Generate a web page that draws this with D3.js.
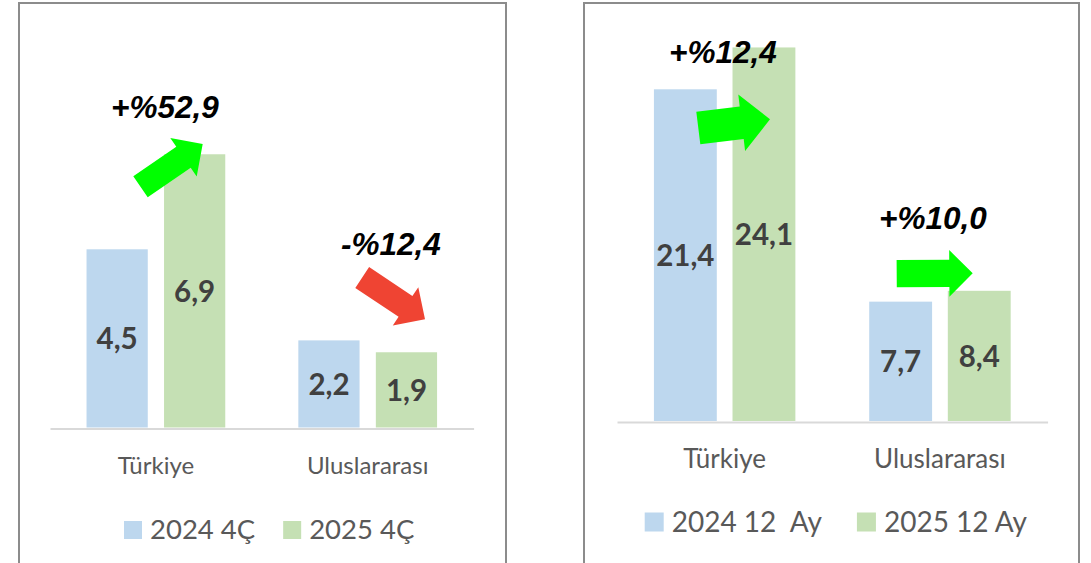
<!DOCTYPE html>
<html>
<head>
<meta charset="utf-8">
<script src="https://cdn.jsdelivr.net/npm/d3@7/dist/d3.min.js"></script>
<style>
  html, body { margin: 0; padding: 0; background: #fff; }
  svg { display: block; }
  text { white-space: pre; }
</style>
</head>
<body>
<svg id="chart" width="1091" height="563"></svg>
<script>
// ---------- data ----------
const categories = ["Türkiye", "Uluslararası"];

const quarterSeries = ["2024 4Ç", "2025 4Ç"];
const quarter2024 = [4.5, 2.2];
const quarter2025 = [6.9, 1.9];
const quarterChange = ["+%52,9", "-%12,4"];

const yearSeries = ["2024 12  Ay", "2025 12 Ay"];
const year2024 = [21.4, 7.7];
const year2025 = [24.1, 8.4];
const yearChange = ["+%12,4", "+%10,0"];

// ---------- style ----------
const seriesColors = ["#BDD7EE", "#C5E0B4"];
const UP = "#00FF00", DOWN = "#EF4433";
const sansFont = "Lato, 'Open Sans', sans-serif";
const annFont = "'Liberation Sans', Arial, sans-serif";

const svg = d3.select("#chart");
const fmt = v => d3.format(".1f")(v).replace(".", ",");

function arrowPath(t, h, sw, hw, hl) {
  const dx = h[0] - t[0], dy = h[1] - t[1];
  const L = Math.hypot(dx, dy), ux = dx / L, uy = dy / L;
  const nx = -uy, ny = ux;
  const b = [h[0] - ux * hl, h[1] - uy * hl];
  const p = (q, s) => [q[0] + nx * s, q[1] + ny * s];
  const pts = [p(t, sw / 2), p(b, sw / 2), p(b, hw / 2), h, p(b, -hw / 2), p(b, -sw / 2), p(t, -sw / 2)];
  return "M" + pts.map(q => q[0].toFixed(1) + "," + q[1].toFixed(1)).join("L") + "Z";
}

function drawPanel(cfg) {
  const g = svg.append("g");
  // frame (bottom edge runs off the picture)
  g.append("path")
    .attr("d", `M${cfg.left},600V3H${cfg.right}V600`)
    .attr("fill", "none").attr("stroke", "#8C8C8C").attr("stroke-width", 2);

  const x0 = d3.scaleBand().domain(categories).range(cfg.axisX)
    .paddingInner(cfg.groupPad).paddingOuter(cfg.groupPad / 2);
  const x1 = d3.scaleBand().domain(cfg.series).range([0, x0.bandwidth()]).paddingInner(cfg.barPad);
  const y = d3.scaleLinear().domain([0, cfg.yMax]).range([cfg.baseline, cfg.yTop]);

  const rows = categories.map((c, i) => ({
    cat: c,
    vals: cfg.series.map((s, j) => ({ s, j, v: cfg.values[j][i] }))
  }));

  const grp = g.selectAll("g.cat").data(rows).join("g")
    .attr("transform", d => `translate(${x0(d.cat)},0)`);

  grp.selectAll("rect").data(d => d.vals).join("rect")
    .attr("x", d => x1(d.s)).attr("width", x1.bandwidth())
    .attr("y", d => y(d.v)).attr("height", d => y(0) - y(d.v))
    .attr("fill", d => seriesColors[d.j]);

  grp.selectAll("text.val").data(d => d.vals).join("text")
    .attr("class", "val")
    .attr("x", d => x1(d.s) + x1.bandwidth() / 2)
    .attr("y", d => (y(d.v) + y(0)) / 2 + cfg.valSize * 0.36)
    .attr("text-anchor", "middle")
    .attr("font-family", sansFont).attr("font-weight", 700)
    .attr("font-size", cfg.valSize).attr("fill", "#404040")
    .text(d => fmt(d.v));

  // category axis
  const axis = g.append("g").attr("transform", `translate(0,${cfg.baseline + 1})`)
    .call(d3.axisBottom(x0).tickSize(0).tickPadding(0).tickFormat(() => ""));
  axis.select(".domain").attr("stroke", "#D9D9D9").attr("stroke-width", 2);

  g.selectAll("text.cat").data(categories).join("text")
    .attr("class", "cat")
    .attr("x", d => x0(d) + x0.bandwidth() / 2)
    .attr("y", cfg.catBaseline)
    .attr("text-anchor", "middle")
    .attr("font-family", sansFont).attr("font-size", cfg.catSize)
    .attr("fill", "#595959")
    .text(d => d);

  // legend
  let lx = cfg.legendX;
  cfg.series.forEach((s, j) => {
    g.append("rect")
      .attr("x", lx).attr("y", cfg.legendY - cfg.sq)
      .attr("width", cfg.sq).attr("height", cfg.sq)
      .attr("fill", seriesColors[j]);
    const t = g.append("text")
      .attr("x", lx + cfg.sq + 8).attr("y", cfg.legendY)
      .attr("font-family", sansFont).attr("font-size", cfg.legendSize)
      .attr("fill", "#595959")
      .text(s);
    lx += cfg.sq + 8 + t.node().getComputedTextLength() + cfg.legendGap;
  });

  // change annotations with block arrows
  cfg.changes.forEach((txt, i) => {
    const a = cfg.ann[i];
    g.append("path")
      .attr("d", arrowPath(a.tail, a.tip, a.sw, a.hw, a.hl))
      .attr("fill", txt.startsWith("-") ? DOWN : UP);
    g.append("text")
      .attr("x", a.tx).attr("y", a.ty)
      .attr("font-family", annFont).attr("font-weight", 700)
      .attr("font-style", "italic").attr("font-size", cfg.annSize)
      .attr("fill", "#000")
      .text(txt);
  });
}

drawPanel({
  left: 19, right: 506, axisX: [50, 473.6], baseline: 427.5, yMax: 8, yTop: 110.7,
  groupPad: 0.345, barPad: 0.21,
  series: quarterSeries, values: [quarter2024, quarter2025], changes: quarterChange,
  valSize: 29.5, catSize: 24, catBaseline: 474,
  legendX: 124, legendY: 539, legendSize: 27.5, legendGap: 28, sq: 18, annSize: 31.5,
  ann: [
    { tail: [140.5, 186.7], tip: [202.7, 144], sw: 25.4, hw: 46.7, hl: 23.3, tx: 111, ty: 118.3 },
    { tail: [362.2, 277.5], tip: [425, 319.3], sw: 24.9, hw: 46, hl: 23.4, tx: 341, ty: 255 }
  ]
});

drawPanel({
  left: 584, right: 1079, axisX: [617, 1047.6], baseline: 421, yMax: 25, yTop: 33.5,
  groupPad: 0.343, barPad: 0.2,
  series: yearSeries, values: [year2024, year2025], changes: yearChange,
  valSize: 29.5, catSize: 26, catBaseline: 467.7,
  legendX: 644.7, legendY: 531.5, legendSize: 28, legendGap: 35, sq: 19, annSize: 31.5,
  ann: [
    { tail: [698.3, 128], tip: [770, 119.3], sw: 32.8, hw: 57, hl: 28.5, tx: 669, ty: 63.3 },
    { tail: [896.7, 273.7], tip: [972.7, 273.3], sw: 27.3, hw: 46.7, hl: 23.4, tx: 879, ty: 229.3 }
  ]
});
</script>
</body>
</html>
